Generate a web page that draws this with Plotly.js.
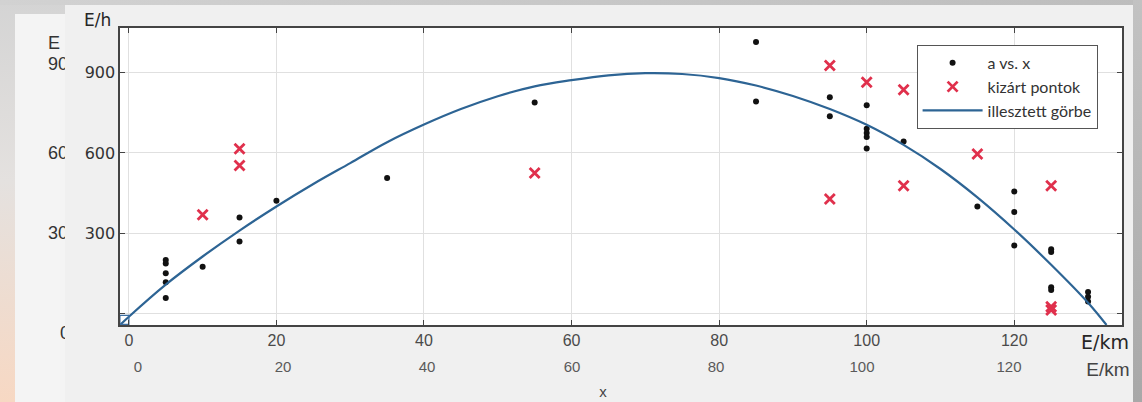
<!DOCTYPE html>
<html><head><meta charset="utf-8">
<script src="https://cdn.plot.ly/plotly-3.0.1.min.js"></script>
<style>
html,body{margin:0;padding:0;}
body{width:1142px;height:402px;position:relative;overflow:hidden;background:linear-gradient(180deg,#d4d4d4 0%,#e4e1df 45%,#f7d8c3 100%);}
#topband{position:absolute;left:0;top:0;width:1142px;height:5px;background:linear-gradient(90deg,#d2d2d2,#bdbdbd);z-index:1;}
#back{position:absolute;left:15px;top:14px;width:1127px;height:388px;background:#f4f4f4;z-index:1;}
.gl{position:absolute;font-family:"Liberation Sans",sans-serif;font-size:18px;color:#333;z-index:1;line-height:1;}
#front{position:absolute;left:65px;top:5px;width:1068px;height:397px;background:#f0f0f0;z-index:2;}
#rightband{position:absolute;left:1133px;top:0;width:9px;height:402px;background:linear-gradient(180deg,#c2c2c2,#a8a8a8);z-index:2;}
#chart{position:absolute;left:0;top:0;width:1142px;height:402px;z-index:3;}
.gr{position:absolute;top:359px;font-family:"Liberation Sans",sans-serif;font-size:15px;color:#5a5a5a;line-height:1;transform:translateX(-50%);z-index:4;}
.gf{position:absolute;font-family:"Liberation Sans",sans-serif;color:#444;line-height:1;z-index:4;transform:translateX(-50%);}
</style>
</head>
<body>
<div id="topband"></div>
<div id="back"></div>
<div class="gl" style="left:48px;top:34px;">E</div>
<div class="gl" style="left:48px;top:55px;">90</div>
<div class="gl" style="left:48px;top:144px;">60</div>
<div class="gl" style="left:48px;top:224px;">30</div>
<div class="gl" style="left:60px;top:324px;">0</div>
<div id="front"></div>
<div id="rightband"></div>
<div id="chart"></div>
<div id="ghostrow"></div>
<div class="gf" style="left:1108px;top:360px;font-size:19px;">E/km</div>
<div class="gf" style="left:603px;top:384px;font-size:15px;">x</div>
<script>
// ---- data ----
const dotsX = [5,5,5,5,5, 10, 15,15, 20, 35, 55, 85,85, 95,95, 100,100,100,100,100, 105, 115, 120,120,120, 125,125,125,125, 130,130,130];
const dotsY = [200,187,150,117,58, 175, 359,269, 421, 506, 789, 1015,792, 808,737, 778,690,675,660,617, 643, 400, 456,379,254, 240,230,98,88, 80,63,45];

const exclX = [10, 15,15, 55, 95,95, 100, 105,105, 115, 125,125,125];
const exclY = [369, 616,553, 525, 927,428, 864, 836,477, 596, 477,25,13];

const fitX = [-1.2, 0, 5, 10, 15, 20, 25, 30, 35, 40, 45, 50, 55, 60, 65, 70, 75, 80, 85, 90, 95, 100, 105, 110, 115, 120, 125, 130, 132.5];
const fitY = [-43, -12, 108, 213, 310, 400, 484, 562, 640, 706, 764, 812, 849, 872, 890, 898, 895, 880, 852, 813, 764, 705, 630, 540, 434, 314, 182, 40, -43];

const anchorX = [-0.6];
const anchorY = [-24];

const xTicks = [0, 20, 40, 60, 80, 100, 120];
const yTicks = [0, 300, 600, 900];
const yTickText = ['', '300', '600', '900'];
const seriesNames = ['a vs. x', 'kizárt pontok', 'illesztett görbe'];
const xUnit = 'E/km';
const yUnit = 'E/h';
const ghostTicks = ['0','20','40','60','80','100','120'];

// ghost (background screenshot) tick row
(function(){
  const px = [138,283,427,572,716,862,1009];
  ghostTicks.forEach((t,i)=>{
    const s=document.createElement('div');
    s.className='gr'; s.textContent=t; s.style.left=px[i]+'px';
    document.body.appendChild(s);
  });
})();

const traces = [
  {x: dotsX, y: dotsY, name: seriesNames[0], type: 'scatter', mode: 'markers',
   marker: {color: '#111111', size: 6, symbol: 'circle'}},
  {x: exclX, y: exclY, name: seriesNames[1], type: 'scatter', mode: 'markers',
   marker: {color: '#e0304c', size: 10, symbol: 'x-thin-open', line: {color: '#e0304c', width: 2.8}}},
  {x: fitX, y: fitY, name: seriesNames[2], type: 'scatter', mode: 'lines',
   line: {color: '#2d6494', width: 2.2, shape: 'spline', smoothing: 1}},
  {x: anchorX, y: anchorY, type: 'scatter', mode: 'markers', showlegend: false, hoverinfo: 'skip',
   marker: {symbol: 'square-open', size: 9, color: '#3d6fa3', line: {width: 1.2, color: '#3d6fa3'}}}
];

const axisCommon = {
  ticks: 'inside', ticklen: 5, tickcolor: '#444444', tickwidth: 1,
  showline: true, linecolor: '#444444', linewidth: 1.6, mirror: 'ticks',
  showgrid: true, gridcolor: '#e0e0e0', gridwidth: 1, zeroline: false
};

const layout = {
  width: 1142, height: 402,
  margin: {l: 120, r: 20, t: 28, b: 77, pad: 0},
  paper_bgcolor: 'rgba(0,0,0,0)',
  plot_bgcolor: '#ffffff',
  showlegend: true,
  legend: {x: 0.795, y: 0.943, xanchor: 'left', yanchor: 'top', bgcolor: '#ffffff',
           bordercolor: '#555555', borderwidth: 1, itemwidth: 60,
           font: {family: 'Lato, sans-serif', size: 16, color: '#333333'}},
  xaxis: Object.assign({}, axisCommon, {
    range: [-1.2, 134.6], tickvals: xTicks,
    tickfont: {family: 'Liberation Sans, sans-serif', size: 16, color: '#4a4a4a'}
  }),
  yaxis: Object.assign({}, axisCommon, {
    range: [-43, 1067], tickvals: yTicks, ticktext: yTickText,
    tickfont: {family: 'DejaVu Sans, sans-serif', size: 16, color: '#333333'}
  }),
  annotations: [
    {text: yUnit, xref: 'paper', yref: 'paper', x: -0.022, y: 1.027, xanchor: 'center', yanchor: 'middle',
     showarrow: false, font: {family: 'DejaVu Sans, sans-serif', size: 17, color: '#262626'}},
    {text: xUnit, xref: 'paper', yref: 'paper', x: 0.983, y: -0.057, xanchor: 'center', yanchor: 'middle',
     showarrow: false, font: {family: 'DejaVu Sans, sans-serif', size: 19, color: '#262626'}}
  ]
};

Plotly.newPlot('chart', traces, layout, {displayModeBar: false, staticPlot: true});
</script>
</body></html>
